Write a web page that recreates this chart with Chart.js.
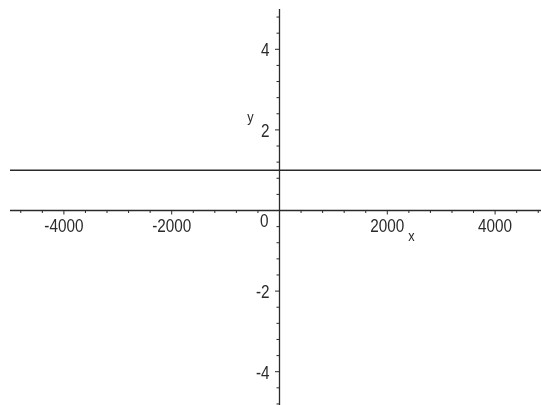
<html>
<head>
    <script src="https://cdn.jsdelivr.net/npm/chart.js@4.4.3/dist/chart.umd.min.js"></script>
    <style>
        body { margin: 0; overflow: hidden; background: #fff; }
    </style>
</head>
<body>
<canvas id="mychart" width="560" height="420"></canvas>
<script>
    // plot range
    const X_MIN = -5000, X_MAX = 5000;
    const Y_MIN = -5, Y_MAX = 5;

    // labelled ticks and minor tick step
    const xTicks = [-4000, -2000, 2000, 4000];
    const yTicks = [-4, -2, 2, 4];
    const X_STEP = 400;
    const Y_STEP = 0.4;

    // the curve: y = 1
    const lineX = [-5000, 5000];
    const lineY = [1, 1];

    const INK = '#2a2a2a';

    function label(ctx, text, x, y, align) {
        ctx.save();
        ctx.translate(x, y);
        ctx.scale(0.85, 1);
        ctx.textAlign = align;
        ctx.textBaseline = 'alphabetic';
        ctx.fillText(text, 0, 0);
        ctx.restore();
    }

    // axes through the origin, Maple style
    const crossAxes = {
        id: 'crossAxes',
        afterDatasetsDraw(chart) {
            let ctx = chart.ctx;
            let sx = chart.scales.x, sy = chart.scales.y;
            let area = chart.chartArea;
            let x0 = sx.getPixelForValue(0);
            let y0 = sy.getPixelForValue(0);

            ctx.save();
            ctx.strokeStyle = INK;
            ctx.lineWidth = 1.3;
            ctx.beginPath();
            ctx.moveTo(area.left, y0);
            ctx.lineTo(area.right, y0);
            ctx.moveTo(x0, area.top);
            ctx.lineTo(x0, area.bottom);
            ctx.stroke();

            ctx.lineWidth = 1;
            ctx.beginPath();
            for (let i = Math.ceil(X_MIN / X_STEP); i <= Math.floor(X_MAX / X_STEP); i++) {
                if (i === 0) continue;
                let px = sx.getPixelForValue(i * X_STEP);
                let len = (i % 5 === 0) ? 4 : 2.5;
                ctx.moveTo(px, y0);
                ctx.lineTo(px, y0 + len);
            }
            for (let i = Math.ceil(Y_MIN / Y_STEP); i <= Math.floor(Y_MAX / Y_STEP); i++) {
                if (i === 0) continue;
                let py = sy.getPixelForValue(i * Y_STEP);
                let len = (i % 5 === 0) ? 4.5 : 3;
                ctx.moveTo(x0, py);
                ctx.lineTo(x0 - len, py);
            }
            ctx.stroke();

            ctx.fillStyle = INK;
            ctx.font = '18px "Liberation Sans", Arial, sans-serif';
            xTicks.forEach(v => label(ctx, String(v), sx.getPixelForValue(v), y0 + 21, 'center'));
            yTicks.forEach(v => label(ctx, String(v), x0 - 10, sy.getPixelForValue(v) + 7, 'right'));
            label(ctx, '0', x0 - 11, y0 + 16, 'right');

            ctx.font = '15px "Liberation Sans", Arial, sans-serif';
            label(ctx, 'x', sx.getPixelForValue(2450), y0 + 30, 'center');
            label(ctx, 'y', x0 - 29, sy.getPixelForValue(2.3) + 4, 'center');
            ctx.restore();
        }
    };

    let datainfo = {
        datasets: [
            {
                data: lineX.map((x, i) => ({x: x, y: lineY[i]})),
                borderColor: INK,
                borderWidth: 1.4,
                pointRadius: 0,
                fill: false
            }
        ]
    };

    let config = {
        type: 'line',
        data: datainfo,
        options: {
            responsive: false,
            animation: false,
            layout: { padding: { left: 10, right: 11, top: 9, bottom: 8 } },
            plugins: { legend: { display: false }, tooltip: { enabled: false } },
            scales: {
                x: { type: 'linear', min: X_MIN, max: X_MAX, display: false },
                y: { type: 'linear', min: Y_MIN, max: Y_MAX, display: false }
            }
        },
        plugins: [crossAxes]
    };

    new Chart(document.getElementById('mychart'), config);
</script>
</body>
</html>
